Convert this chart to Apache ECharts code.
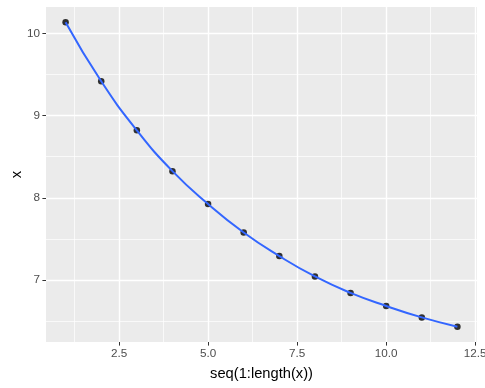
<!DOCTYPE html>
<html>
<head>
<meta charset="utf-8">
<script src="https://cdn.jsdelivr.net/npm/echarts@6/dist/echarts.min.js"></script>
<style>html,body{margin:0;padding:0;background:#fff;}#c{width:485px;height:388px;}</style>
</head>
<body>
<div id="c"></div>
<script>
// Data
var xValues = [1, 2, 3, 4, 5, 6, 7, 8, 9, 10, 11, 12];
var yValues = [10.137, 9.418, 8.822, 8.325, 7.925, 7.578, 7.291, 7.043, 6.843, 6.684, 6.545, 6.431];
var xTicks = [2.5, 5.0, 7.5, 10.0, 12.5];
var xMinorTicks = [1.25, 3.75, 6.25, 8.75, 11.25];
var yTicks = [7, 8, 9, 10];
var yMinorTicks = [6.5, 7.5, 8.5, 9.5];
var xTitle = 'seq(1:length(x))';
var yTitle = 'x';

var pts = xValues.map(function (x, i) { return [x, yValues[i]]; });

function expand(arr) {
  var mn = Math.min.apply(null, arr), mx = Math.max.apply(null, arr);
  var d = (mx - mn) * 0.05;
  return [mn - d, mx + d];
}
var xr = expand(xValues), yr = expand(yValues);

var font = 'Liberation Sans, Arial, sans-serif';
var chart = echarts.init(document.getElementById('c'), null, {renderer: 'canvas'});

function vlines(vals) { return vals.map(function (v) { return {xAxis: v}; }); }
function hlines(vals) { return vals.map(function (v) { return {yAxis: v}; }); }

chart.setOption({
  animation: false,
  backgroundColor: '#ffffff',
  grid: {
    left: 46, right: 8, top: 7, bottom: 46,
    containLabel: false, outerBoundsMode: 'none',
    show: true, backgroundColor: '#EBEBEB', borderWidth: 0
  },
  xAxis: {
    type: 'value', min: xr[0], max: xr[1],
    name: xTitle, nameLocation: 'middle', nameGap: 24, nameMoveOverlap: false,
    nameTextStyle: {color: '#000000', fontSize: 14.7, fontFamily: font},
    axisLine: {show: false},
    splitLine: {show: false},
    axisTick: {show: true, length: 3.6, customValues: xTicks, lineStyle: {color: '#333333', width: 1}},
    axisLabel: {
      customValues: xTicks, margin: 6, color: '#4D4D4D', fontSize: 11.7, fontFamily: font,
      hideOverlap: false,
      formatter: function (v) { return Number(v).toFixed(1); }
    }
  },
  yAxis: {
    type: 'value', min: yr[0], max: yr[1],
    name: yTitle, nameLocation: 'middle', nameGap: 22, nameRotate: 90, nameMoveOverlap: false,
    nameTextStyle: {color: '#000000', fontSize: 14.7, fontFamily: font},
    axisLine: {show: false},
    splitLine: {show: false},
    axisTick: {show: true, length: 3.6, customValues: yTicks, lineStyle: {color: '#333333', width: 1}},
    axisLabel: {
      customValues: yTicks, margin: 6, color: '#4D4D4D', fontSize: 11.7, fontFamily: font,
      formatter: function (v) { return String(v); }
    }
  },
  series: [
    {
      type: 'line', data: [], silent: true, z: 1,
      markLine: {
        z: 1, silent: true, symbol: 'none', animation: false, label: {show: false},
        lineStyle: {color: '#ffffff', width: 0.7, type: 'solid'},
        data: vlines(xMinorTicks).concat(hlines(yMinorTicks))
      }
    },
    {
      type: 'line', data: [], silent: true, z: 1,
      markLine: {
        z: 1, silent: true, symbol: 'none', animation: false, label: {show: false},
        lineStyle: {color: '#ffffff', width: 1.4, type: 'solid'},
        data: vlines(xTicks).concat(hlines(yTicks))
      }
    },
    {
      type: 'scatter', data: pts, symbol: 'circle', symbolSize: 6.5, z: 3,
      itemStyle: {color: '#000000'}, silent: true
    },
    {
      type: 'line', data: pts, smooth: true, showSymbol: false, z: 4,
      lineStyle: {color: '#3366FF', width: 2}, silent: true
    }
  ]
});
</script>
</body>
</html>
